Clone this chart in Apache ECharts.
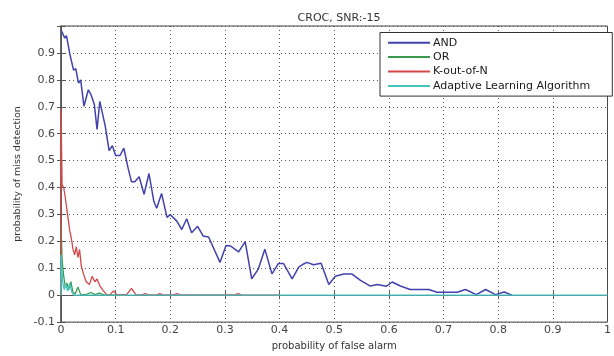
<!DOCTYPE html>
<html><head><meta charset="utf-8">
<script src="https://cdn.jsdelivr.net/npm/echarts@6/dist/echarts.min.js"></script>
<style>html,body{margin:0;padding:0;background:#fff}#c{width:614px;height:356px}</style>
</head><body><div id="c"></div>
<script>
var titleText = 'CROC, SNR:-15';
var seriesNames = ['AND', 'OR', 'K-out-of-N', 'Adaptive Learning Algorithm'];
var xTicks = [0, 0.1, 0.2, 0.3, 0.4, 0.5, 0.6, 0.7, 0.8, 0.9, 1];

var andX = [0,0.004,0.007,0.01,0.016,0.023,0.027,0.032,0.036,0.042,0.05,0.055,0.061,0.066,0.071,0.081,0.088,0.094,0.1,0.108,0.115,0.123,0.129,0.135,0.143,0.152,0.161,0.17,0.175,0.184,0.194,0.2,0.212,0.221,0.23,0.239,0.25,0.26,0.27,0.291,0.302,0.31,0.325,0.337,0.349,0.361,0.373,0.386,0.398,0.407,0.423,0.435,0.444,0.45,0.462,0.476,0.49,0.502,0.517,0.532,0.548,0.566,0.579,0.595,0.606,0.621,0.639,0.673,0.688,0.725,0.74,0.76,0.777,0.795,0.811,0.825];
var andY = [0.985,0.968,0.955,0.964,0.897,0.836,0.842,0.788,0.80,0.702,0.763,0.745,0.708,0.616,0.72,0.628,0.537,0.555,0.519,0.519,0.546,0.47,0.421,0.421,0.44,0.375,0.452,0.348,0.323,0.378,0.289,0.299,0.275,0.244,0.284,0.232,0.256,0.22,0.216,0.122,0.185,0.183,0.161,0.199,0.061,0.097,0.171,0.079,0.118,0.118,0.061,0.104,0.116,0.122,0.113,0.119,0.04,0.07,0.079,0.079,0.055,0.034,0.04,0.033,0.049,0.034,0.021,0.021,0.011,0.011,0.021,0.002,0.021,0.002,0.012,0];

var orX = [0,0,0.002,0.005,0.008,0.011,0.014,0.018,0.022,0.026,0.031,0.036,0.045,0.055,0.062,0.07,0.08,0.12];
var orY = [0,0.26,0.13,0.07,0.03,0.045,0.02,0.05,0.01,0.005,0.03,0.003,0.002,0.01,0.002,0.008,0,0];

var kX = [0,0,0.002,0.005,0.008,0.012,0.016,0.019,0.022,0.025,0.028,0.031,0.034,0.037,0.041,0.046,0.052,0.057,0.062,0.066,0.071,0.077,0.083,0.09,0.096,0.102,0.12,0.129,0.137,0.148,0.154,0.16,0.176,0.181,0.186,0.206,0.212,0.218,0.318,0.324,0.33,0.4];
var kY = [0,0.69,0.41,0.40,0.36,0.30,0.24,0.21,0.17,0.15,0.18,0.14,0.17,0.11,0.08,0.05,0.04,0.07,0.05,0.06,0.035,0.018,0.003,0.002,0.016,0.002,0.002,0.025,0.002,0.001,0.006,0.001,0.001,0.006,0.001,0.001,0.006,0.001,0.001,0.006,0.001,0];

var adX = [0,0,0.003,0.006,0.009,0.012,0.016,0.02,0.024,1];
var adY = [0,0.15,0.05,0.02,0.04,0.015,0.045,0.01,0,0];

function zip(xs, ys){ return xs.map(function(x,i){ return [x, ys[i]]; }); }
var colors = ['#4242ac', '#3b9a4e', '#d44848', '#45c4c4'];
var seriesData = [zip(andX,andY), zip(orX,orY), zip(kX,kY), zip(adX,adY)];

var chart = echarts.init(document.getElementById('c'), null, {renderer:'canvas'});
var fam = 'DejaVu Sans, sans-serif';
function fmt(v){ var r = Math.round(v*10)/10; if (r >= 1 - 1e-9 && r <= 1 + 1e-9) return ''; return String(r); }
function fmtX(v){ return String(Math.round(v*10)/10); }

chart.setOption({
  animation: false,
  backgroundColor: '#ffffff',
  title: { text: titleText, left: 334, top: 8, textAlign: 'center',
    textStyle: { fontFamily: fam, fontSize: 11, fontWeight: 'normal', color: '#333' } },
  legend: {
    data: seriesNames, orient: 'vertical', left: 380, top: 32.5,
    itemWidth: 42, itemHeight: 14, itemGap: 0, itemStyle: { opacity: 0 },
    padding: [3, 22, 3, 7],
    backgroundColor: '#fff', borderColor: '#333', borderWidth: 1,
    textStyle: { fontFamily: fam, fontSize: 11, color: '#1a1a1a', lineHeight: 14.4, padding: [0,0,0,-2] }
  },
  grid: { left: 61, right: 6, top: 26, bottom: 30, show: true, borderColor: '#444', borderWidth: 1 },
  xAxis: [{
    type: 'value', min: 0, max: 1, interval: 0.1,
    name: 'probability of false alarm', nameLocation: 'middle', nameGap: 17,
    nameTextStyle: { fontFamily: fam, fontSize: 10, color: '#333' },
    axisLine: { show: true, lineStyle: { color: '#555', width: 1 } },
    axisTick: { inside: true, length: 4, lineStyle: { color: '#555' } },
    axisLabel: { fontFamily: fam, fontSize: 11, color: '#444', margin: 3, formatter: fmtX },
    splitLine: { show: true, lineStyle: { type: [1, 3], color: '#555', width: 1 } }
  }, {
    type: 'value', min: 0, max: 1, interval: 0.1, position: 'top',
    axisLine: { show: true, lineStyle: { color: '#555' } },
    axisTick: { inside: true, length: 4, lineStyle: { color: '#555' } },
    axisLabel: { show: false }, splitLine: { show: false }
  }],
  yAxis: [{
    type: 'value', min: -0.1, max: 1, interval: 0.1,
    name: 'probability of miss detection', nameLocation: 'middle', nameGap: 36,
    nameTextStyle: { fontFamily: fam, fontSize: 9.5, color: '#333' },
    axisLine: { show: true, lineStyle: { color: '#555', width: 1.5 } },
    axisTick: { inside: true, length: 4, lineStyle: { color: '#555' } },
    axisLabel: { fontFamily: fam, fontSize: 11, color: '#444', margin: 6, formatter: fmt },
    splitLine: { show: true, lineStyle: { type: [1, 3], color: '#555', width: 1 } }
  }, {
    type: 'value', min: -0.1, max: 1, interval: 0.1, position: 'right',
    axisLine: { show: true, lineStyle: { color: '#555' } },
    axisTick: { inside: true, length: 4, lineStyle: { color: '#555' } },
    axisLabel: { show: false }, splitLine: { show: false }
  }],
  series: seriesNames.map(function(n, i){
    return { name: n, type: 'line', data: seriesData[i], symbol: 'none',
      xAxisIndex: 0, yAxisIndex: 0,
      lineStyle: { color: colors[i], width: i === 0 ? 1.5 : 1.3 },
      itemStyle: { color: colors[i] } };
  })
});
</script></body></html>
